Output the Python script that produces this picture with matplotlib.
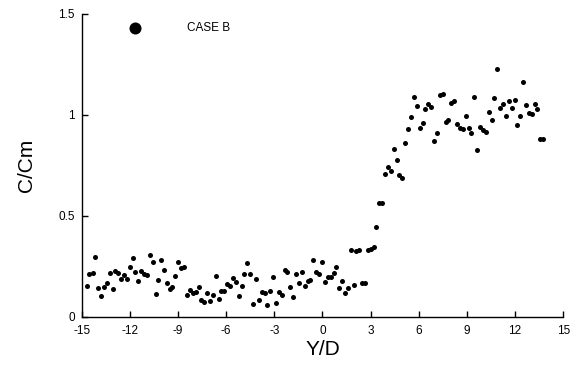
import matplotlib.pyplot as plt
import numpy as np

plt.rcParams['font.family'] = ['Liberation Sans', 'DejaVu Sans']

# case B measurements, Y/D vs C/Cm
y_d = [-14.68, -14.52, -14.31, -14.15, -13.96, -13.79, -13.61, -13.42, -13.25, -13.06,
       -12.90, -12.71, -12.55, -12.36, -12.19, -12.00, -11.82, -11.66, -11.47, -11.28,
       -11.11, -10.93, -10.76, -10.57, -10.39, -10.22, -10.04, -9.87, -9.68, -9.51,
       -9.35, -9.17, -8.98, -8.81, -8.62, -8.44, -8.25, -8.08, -7.90, -7.71,
       -7.55, -7.36, -7.19, -7.00, -6.84, -6.65, -6.46, -6.30, -6.11, -5.95,
       -5.76, -5.57, -5.40, -5.22, -5.03, -4.87, -4.68, -4.51, -4.33, -4.14,
       -3.97, -3.79, -3.60, -3.44, -3.25, -3.06, -2.90, -2.71, -2.54, -2.35,
       -2.19, -2.00, -1.82, -1.65, -1.48, -1.30, -1.11, -0.92, -0.76, -0.57,
       -0.40, -0.22, -0.03, 0.14, 0.32, 0.51, 0.70, 0.86, 1.05, 1.21,
       1.40, 1.59, 1.76, 1.94, 2.10, 2.27, 2.46, 2.65, 2.81, 3.00,
       3.19, 3.35, 3.54, 3.70, 3.89, 4.08, 4.25, 4.43, 4.62, 4.78,
       4.97, 5.16, 5.32, 5.51, 5.70, 5.87, 6.05, 6.24, 6.40, 6.59,
       6.77, 6.94, 7.13, 7.30, 7.48, 7.67, 7.83, 8.02, 8.21, 8.38,
       8.56, 8.75, 8.92, 9.10, 9.27, 9.45, 9.64, 9.81, 9.99, 10.18,
       10.35, 10.54, 10.70, 10.88, 11.05, 11.24, 11.43, 11.59, 11.78, 11.97,
       12.13, 12.32, 12.48, 12.67, 12.84, 13.03, 13.21, 13.38, 13.56, 13.75]
c_cm = [0.152, 0.212, 0.218, 0.294, 0.141, 0.104, 0.149, 0.168, 0.215, 0.139,
        0.228, 0.215, 0.188, 0.205, 0.185, 0.248, 0.289, 0.222, 0.177, 0.228,
        0.212, 0.208, 0.306, 0.270, 0.114, 0.182, 0.279, 0.230, 0.167, 0.139,
        0.146, 0.200, 0.270, 0.243, 0.245, 0.109, 0.131, 0.117, 0.121, 0.146,
        0.083, 0.073, 0.117, 0.079, 0.108, 0.203, 0.086, 0.127, 0.126, 0.162,
        0.154, 0.193, 0.173, 0.101, 0.152, 0.212, 0.266, 0.210, 0.063, 0.185,
        0.084, 0.121, 0.119, 0.059, 0.127, 0.197, 0.066, 0.121, 0.108, 0.233,
        0.223, 0.149, 0.098, 0.213, 0.166, 0.223, 0.154, 0.178, 0.182, 0.281,
        0.223, 0.212, 0.270, 0.173, 0.198, 0.197, 0.218, 0.245, 0.142, 0.178,
        0.116, 0.141, 0.332, 0.156, 0.327, 0.329, 0.167, 0.168, 0.329, 0.337,
        0.347, 0.446, 0.565, 0.563, 0.707, 0.743, 0.722, 0.831, 0.778, 0.704,
        0.689, 0.859, 0.929, 0.991, 1.090, 1.044, 0.935, 0.958, 1.028, 1.053,
        1.041, 0.871, 0.912, 1.099, 1.105, 0.965, 0.973, 1.060, 1.070, 0.953,
        0.934, 0.932, 0.995, 0.937, 0.912, 1.087, 0.826, 0.940, 0.927, 0.914,
        1.014, 0.973, 1.084, 1.229, 1.036, 1.053, 0.996, 1.069, 1.034, 1.074,
        0.948, 0.993, 1.165, 1.048, 1.011, 1.004, 1.054, 1.031, 0.879, 0.879]

x_ticks = [-15, -12, -9, -6, -3, 0, 3, 6, 9, 12, 15]
y_ticks = [0, 0.5, 1, 1.5]
y_tick_labels = ['0', '0.5', '1', '1.5']

fig = plt.figure(figsize=(5.81, 3.72), dpi=100)
ax = fig.add_axes([0.1404, 0.1487, 0.8291, 0.8137])

ax.scatter(y_d, c_cm, s=13, color='black', linewidths=0)

# legend marker drawn inside the axes
ax.scatter([-11.67], [1.43], s=75, color='black', linewidths=0, clip_on=False)
ax.text(-8.45, 1.43, 'CASE B', fontsize=8.5, va='center', ha='left')

ax.set_xlim(-15, 15)
ax.set_ylim(0, 1.5)
ax.set_xticks(x_ticks)
ax.set_xticklabels([str(t) for t in x_ticks])
ax.set_yticks(y_ticks)
ax.set_yticklabels(y_tick_labels)

ax.spines['top'].set_visible(False)
ax.spines['right'].set_visible(False)
ax.spines['left'].set_linewidth(1.0)
ax.spines['bottom'].set_linewidth(1.0)
ax.tick_params(direction='in', length=4.5, width=1.0, labelsize=8.5)
ax.tick_params(axis='x', pad=6)
ax.tick_params(axis='y', pad=5)

ax.set_xlabel('Y/D', fontsize=15, labelpad=2)
ax.set_ylabel('C/Cm', fontsize=15, labelpad=16)

plt.savefig('out.png', dpi=100)
